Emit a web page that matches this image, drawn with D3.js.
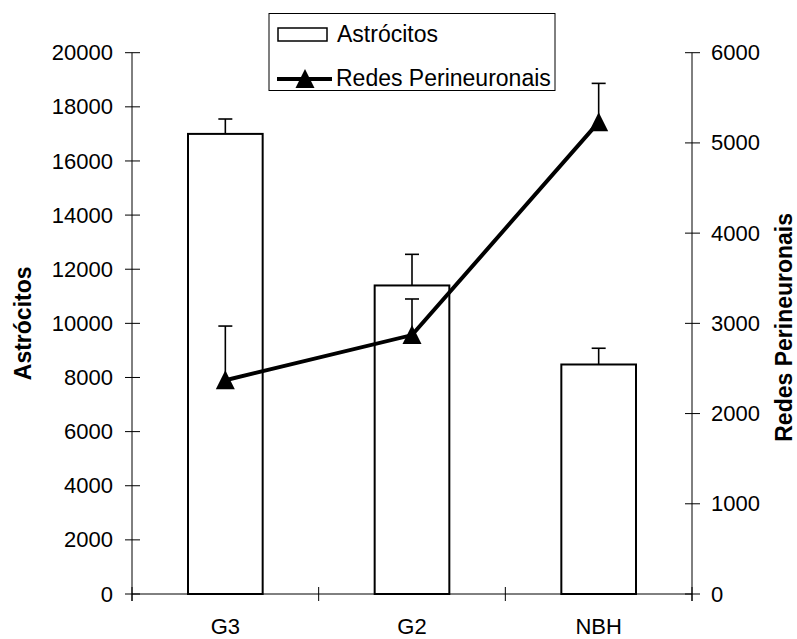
<!DOCTYPE html>
<html>
<head>
<meta charset="utf-8">
<script src="https://cdn.jsdelivr.net/npm/d3@7"></script>
<style>
  body { margin: 0; background: #fff; }
  svg { display: block; font-family: "Liberation Sans", Arial, sans-serif; }
</style>
</head>
<body>
<div id="chart"></div>
<script>
// categories and series
const groups = ['G3', 'G2', 'NBH'];
const astrocitos = [17000, 11400, 8480];
const astrocitosErr = [550, 1150, 600];
const redes = [2370, 2870, 5230];
const redesErr = [600, 400, 430];
const leftTicks = [0, 2000, 4000, 6000, 8000, 10000, 12000, 14000, 16000, 18000, 20000];
const rightTicks = [0, 1000, 2000, 3000, 4000, 5000, 6000];

const W = 797, H = 639;
const plotL = 132, plotR = 692, plotT = 52.7, plotB = 594;

const svg = d3.select('#chart').append('svg')
  .attr('width', W)
  .attr('height', H);

const x = d3.scaleBand().domain(groups).range([plotL, plotR]).paddingInner(0).paddingOuter(0);
const yL = d3.scaleLinear().domain([0, 20000]).range([plotB, plotT]);
const yR = d3.scaleLinear().domain([0, 6000]).range([plotB, plotT]);

const barW = x.bandwidth() * 0.4;
const cx = d => x(d) + x.bandwidth() / 2;

// bars
svg.append('g').selectAll('rect')
  .data(groups)
  .join('rect')
  .attr('x', d => cx(d) - barW / 2)
  .attr('y', (d, i) => yL(astrocitos[i]))
  .attr('width', barW)
  .attr('height', (d, i) => plotB - yL(astrocitos[i]))
  .attr('fill', '#fff')
  .attr('stroke', '#000')
  .attr('stroke-width', 2);

// bar error bars (positive only)
const be = svg.append('g').attr('stroke', '#000').attr('stroke-width', 1.6);
groups.forEach((g, i) => {
  const y0 = yL(astrocitos[i]), y1 = yL(astrocitos[i] + astrocitosErr[i]);
  be.append('line').attr('x1', cx(g)).attr('x2', cx(g)).attr('y1', y0).attr('y2', y1);
  be.append('line').attr('x1', cx(g) - 7).attr('x2', cx(g) + 7).attr('y1', y1).attr('y2', y1);
});

// axes: left
const axisL = d3.axisLeft(yL).tickValues(leftTicks).tickFormat(d3.format('d')).tickSize(0).tickPadding(19);
const gL = svg.append('g').attr('transform', `translate(${plotL},0)`).call(axisL);
gL.select('.domain').remove();
gL.selectAll('text').attr('font-size', 22).attr('fill', '#000').attr('font-family', 'Liberation Sans, Arial, sans-serif');
svg.append('line').attr('x1', plotL).attr('x2', plotL).attr('y1', plotT).attr('y2', plotB + 7).attr('stroke', '#000');
svg.append('g').selectAll('line').data(leftTicks).join('line')
  .attr('x1', plotL - 7).attr('x2', plotL + 8)
  .attr('y1', d => yL(d)).attr('y2', d => yL(d)).attr('stroke', '#000');

// right
const axisR = d3.axisRight(yR).tickValues(rightTicks).tickFormat(d3.format('d')).tickSize(0).tickPadding(19);
const gR = svg.append('g').attr('transform', `translate(${plotR},0)`).call(axisR);
gR.select('.domain').remove();
gR.selectAll('text').attr('font-size', 22).attr('fill', '#000').attr('font-family', 'Liberation Sans, Arial, sans-serif');
svg.append('line').attr('x1', plotR).attr('x2', plotR).attr('y1', plotT).attr('y2', plotB + 7).attr('stroke', '#000');
svg.append('g').selectAll('line').data(rightTicks).join('line')
  .attr('x1', plotR - 7).attr('x2', plotR + 8)
  .attr('y1', d => yR(d)).attr('y2', d => yR(d)).attr('stroke', '#000');

// bottom
svg.append('line').attr('x1', plotL).attr('x2', plotR).attr('y1', plotB).attr('y2', plotB).attr('stroke', '#000');
const bounds = groups.map(g => x(g)).concat([plotR]);
svg.append('g').selectAll('line').data(bounds).join('line')
  .attr('x1', d => d).attr('x2', d => d)
  .attr('y1', plotB - 7).attr('y2', plotB + 7).attr('stroke', '#000');
svg.append('g').selectAll('text').data(groups).join('text')
  .attr('x', d => cx(d)).attr('y', 634)
  .attr('text-anchor', 'middle').attr('font-size', 22)
  .text(d => d);

// line series
const line = d3.line().x((d, i) => cx(groups[i])).y(d => yR(d));
svg.append('path').datum(redes)
  .attr('d', line).attr('fill', 'none').attr('stroke', '#000').attr('stroke-width', 4);

// line error bars
const le = svg.append('g').attr('stroke', '#000').attr('stroke-width', 1.6);
groups.forEach((g, i) => {
  const y0 = yR(redes[i]), y1 = yR(redes[i] + redesErr[i]);
  le.append('line').attr('x1', cx(g)).attr('x2', cx(g)).attr('y1', y0).attr('y2', y1);
  le.append('line').attr('x1', cx(g) - 7).attr('x2', cx(g) + 7).attr('y1', y1).attr('y2', y1);
});

// triangle markers
const tri = 'M0,-10L9.5,9L-9.5,9Z';
svg.append('g').selectAll('path').data(redes).join('path')
  .attr('d', tri)
  .attr('transform', (d, i) => `translate(${cx(groups[i])},${yR(d)})`)
  .attr('fill', '#000');

// axis titles
svg.append('text')
  .attr('transform', `translate(31,${(plotT + plotB) / 2}) rotate(-90)`)
  .attr('text-anchor', 'middle').attr('font-size', 23).attr('font-weight', 'bold')
  .text('Astrócitos');
svg.append('text')
  .attr('transform', `translate(792,${(plotT + plotB) / 2 + 4}) rotate(-90)`)
  .attr('text-anchor', 'middle').attr('font-size', 23).attr('font-weight', 'bold')
  .text('Redes Perineuronais');

// legend
const lg = svg.append('g');
lg.append('rect').attr('x', 269).attr('y', 13.5).attr('width', 286).attr('height', 77)
  .attr('fill', '#fff').attr('stroke', '#000').attr('stroke-width', 1);
lg.append('rect').attr('x', 278).attr('y', 28).attr('width', 49).attr('height', 13)
  .attr('fill', '#fff').attr('stroke', '#000').attr('stroke-width', 1.5);
lg.append('text').attr('x', 337).attr('y', 42).attr('font-size', 23).text('Astrócitos');
lg.append('line').attr('x1', 277).attr('x2', 332).attr('y1', 79).attr('y2', 79)
  .attr('stroke', '#000').attr('stroke-width', 4);
lg.append('path').attr('d', tri).attr('transform', 'translate(305,79)').attr('fill', '#000');
lg.append('text').attr('x', 336).attr('y', 86).attr('font-size', 23).text('Redes Perineuronais');
</script>
</body>
</html>
